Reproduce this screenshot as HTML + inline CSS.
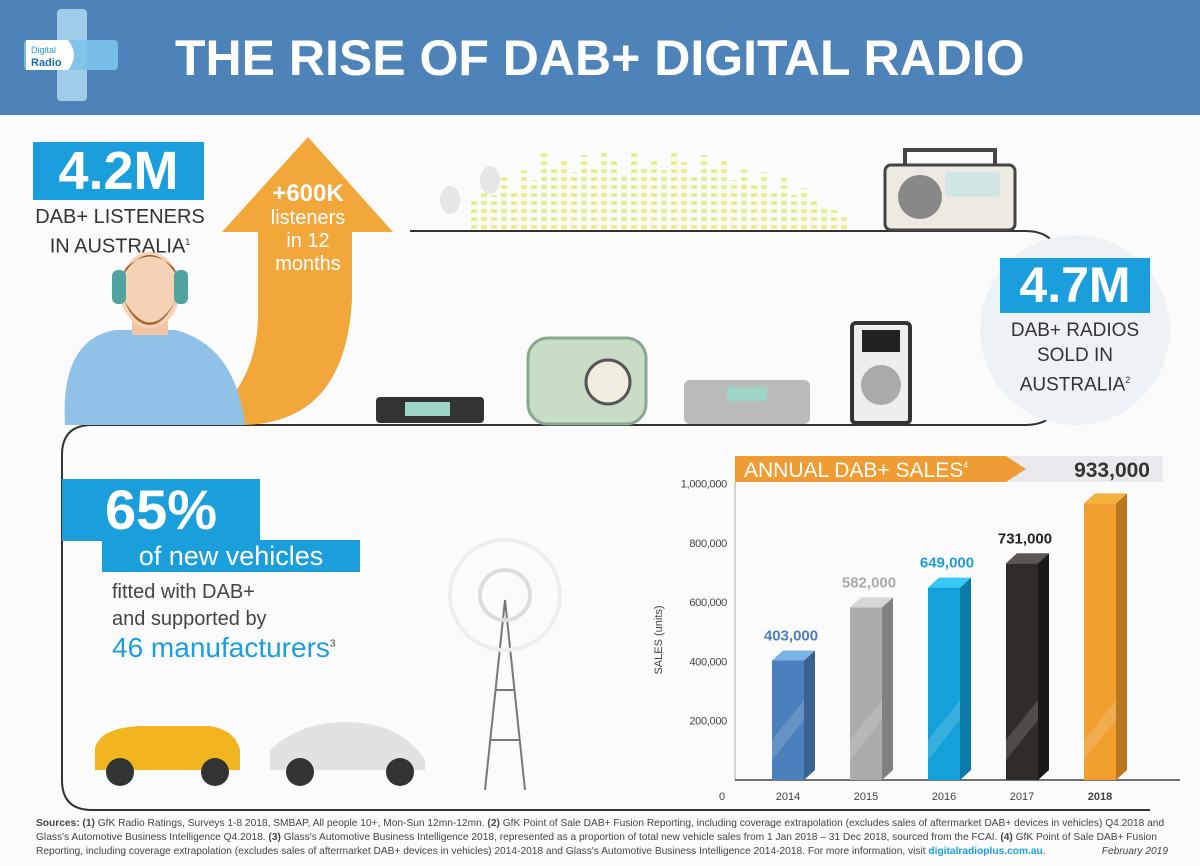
<!DOCTYPE html>
<html><head><meta charset="utf-8">
<style>
body{margin:0;width:1200px;height:866px;overflow:hidden;background:#fafafa;font-family:"Liberation Sans",sans-serif;}
#wrap{position:relative;width:1200px;height:866px;}
.abs{position:absolute;}
</style></head>
<body>
<div id="wrap">
<svg class="abs" style="left:0;top:0" width="1200" height="866">
  <defs>
    <pattern id="dots" width="10" height="8" patternUnits="userSpaceOnUse"><rect x="1" y="1" width="6" height="4" fill="#e4ec6a"/></pattern>
  </defs>
  <rect x="0" y="0" width="1200" height="866" fill="#fbfbfb"/>
  <rect x="0" y="0" width="1200" height="115" fill="#4d83b9"/>
  <g>
    <rect x="57" y="9" width="30" height="92" rx="4" fill="#a8d4ee" opacity="0.9"/>
    <rect x="24" y="40" width="94" height="30" rx="4" fill="#7cc3ea" opacity="0.9"/>
    <path d="M26 40 h42 q12 15 0 30 h-42 z" fill="#fff"/>
    <text x="31" y="53" font-size="9" fill="#1ea0dc">Digital</text>
    <text x="31" y="66" font-size="11" font-weight="bold" fill="#1a6fb3">Radio</text>
  </g>
  <text x="175" y="75" font-size="50" font-weight="bold" fill="#fff">THE RISE OF DAB+ DIGITAL RADIO</text>
  <path d="M410 231 H1025 Q1058 231 1058 262 V395 Q1058 425 1025 425 H92 Q62 425 62 455 V780 Q62 810 92 810 H1150" fill="none" stroke="#333" stroke-width="2"/>
  <g fill="url(#dots)" opacity="0.75">
    <rect x="470" y="200" width="10" height="30"/><rect x="480" y="185" width="10" height="45"/><rect x="490" y="195" width="10" height="35"/>
    <rect x="500" y="175" width="10" height="55"/><rect x="510" y="190" width="10" height="40"/><rect x="520" y="170" width="10" height="60"/>
    <rect x="530" y="180" width="10" height="50"/><rect x="540" y="150" width="10" height="80"/><rect x="550" y="165" width="10" height="65"/>
    <rect x="560" y="160" width="10" height="70"/><rect x="570" y="172" width="10" height="58"/><rect x="580" y="155" width="10" height="75"/>
    <rect x="590" y="168" width="10" height="62"/><rect x="600" y="150" width="10" height="80"/><rect x="610" y="160" width="10" height="70"/>
    <rect x="620" y="176" width="10" height="54"/><rect x="630" y="152" width="10" height="78"/><rect x="640" y="165" width="10" height="65"/>
    <rect x="650" y="158" width="10" height="72"/><rect x="660" y="170" width="10" height="60"/><rect x="670" y="150" width="10" height="80"/>
    <rect x="680" y="162" width="10" height="68"/><rect x="690" y="175" width="10" height="55"/><rect x="700" y="155" width="10" height="75"/>
    <rect x="710" y="168" width="10" height="62"/><rect x="720" y="160" width="10" height="70"/><rect x="730" y="180" width="10" height="50"/>
    <rect x="740" y="165" width="10" height="65"/><rect x="750" y="185" width="10" height="45"/><rect x="760" y="172" width="10" height="58"/>
    <rect x="770" y="190" width="10" height="40"/><rect x="780" y="178" width="10" height="52"/><rect x="790" y="195" width="10" height="35"/>
    <rect x="800" y="188" width="10" height="42"/><rect x="810" y="200" width="10" height="30"/><rect x="820" y="205" width="10" height="25"/>
    <rect x="830" y="210" width="10" height="20"/><rect x="840" y="215" width="10" height="15"/>
  </g>
  <g fill="#e6e6e6">
    <ellipse cx="450" cy="200" rx="10" ry="14"/><ellipse cx="490" cy="180" rx="10" ry="14"/>
  </g>
  <g>
    <rect x="885" y="165" width="130" height="65" rx="6" fill="#eceae2" stroke="#444" stroke-width="3"/>
    <circle cx="920" cy="197" r="22" fill="#888"/>
    <rect x="945" y="172" width="55" height="25" rx="4" fill="#cfe6e2"/>
    <path d="M905 165 V150 H995 V165" fill="none" stroke="#444" stroke-width="4"/>
  </g>
  <circle cx="1075" cy="330" r="95" fill="#eef1f5"/>
  <path d="M200 425 Q255 390 258 320 V232 H222 L308 137 L393 232 H352 V300 Q345 425 240 425 Z" fill="#f2a73b"/>
  <g>
    <path d="M65 425 Q60 340 115 330 H175 Q235 345 245 425 Z" fill="#8fc2e6"/>
    <rect x="132" y="290" width="36" height="45" fill="#f1c5a4"/>
    <ellipse cx="150" cy="290" rx="30" ry="38" fill="#f6d2b5"/>
    <path d="M120 280 Q150 230 180 280 L174 268 Q150 245 126 268 Z" fill="#8a5a30"/>
    <path d="M124 300 Q150 345 176 300 Q164 325 150 325 Q134 325 124 300 Z" fill="#a06a3a"/>
    <rect x="112" y="270" width="14" height="34" rx="6" fill="#4fa4a0"/>
    <rect x="174" y="270" width="14" height="34" rx="6" fill="#4fa4a0"/>
  </g>
  <g><rect x="376" y="397" width="108" height="26" rx="4" fill="#333"/><rect x="405" y="402" width="45" height="14" fill="#9ed4c8"/></g>
  <g><rect x="528" y="338" width="118" height="86" rx="20" fill="#c9dcc8" stroke="#8aa890" stroke-width="3"/><circle cx="608" cy="382" r="22" fill="#f0ede0" stroke="#555" stroke-width="3"/></g>
  <g><rect x="684" y="380" width="126" height="44" rx="6" fill="#bbb"/><rect x="727" y="387" width="40" height="14" fill="#9ed4c8"/></g>
  <g><rect x="852" y="323" width="58" height="100" rx="4" fill="#eee" stroke="#333" stroke-width="4"/><rect x="862" y="330" width="38" height="22" fill="#222"/><circle cx="881" cy="385" r="20" fill="#aaa"/></g>
  <g fill="none" stroke="#777" stroke-width="2">
    <path d="M485 790 L505 600 L525 790 M490 740 H520 M495 690 H515"/>
    <circle cx="505" cy="595" r="25" stroke="#ddd" stroke-width="4"/>
    <circle cx="505" cy="595" r="55" stroke="#eee" stroke-width="4"/>
  </g>
  <g><path d="M95 770 V748 Q100 728 140 726 H210 Q235 730 240 750 V770 Z" fill="#f2b51f"/><circle cx="120" cy="772" r="14" fill="#333"/><circle cx="215" cy="772" r="14" fill="#333"/></g>
  <g><path d="M270 770 V750 Q300 722 345 722 Q400 722 425 760 V770 Z" fill="#e2e2e2"/><circle cx="300" cy="772" r="14" fill="#333"/><circle cx="400" cy="772" r="14" fill="#333"/></g>
</svg>

<div class="abs" style="left:33px;top:142px;width:171px;height:58px;background:#1a9fdc;color:#fff;font-weight:bold;font-size:54px;line-height:58px;text-align:center">4.2M</div>
<div class="abs" style="left:20px;top:205px;width:200px;text-align:center;font-size:20px;line-height:25px;color:#333">DAB+ LISTENERS<br>IN AUSTRALIA<sup style="font-size:9px">1</sup></div>
<div class="abs" style="left:253px;top:182px;width:110px;text-align:center;color:#fff;font-size:20px;line-height:23px"><b style="font-size:24px">+600K</b><br>listeners<br>in 12<br>months</div>
<div class="abs" style="left:1000px;top:258px;width:150px;height:55px;background:#1a9fdc;color:#fff;font-weight:bold;font-size:50px;line-height:55px;text-align:center">4.7M</div>
<div class="abs" style="left:990px;top:318px;width:170px;text-align:center;font-size:19px;line-height:25px;color:#333">DAB+ RADIOS<br>SOLD IN<br>AUSTRALIA<sup style="font-size:9px">2</sup></div>
<div class="abs" style="left:62px;top:479px;width:198px;height:62px;background:#1a9fdc;color:#fff;font-weight:bold;font-size:56px;line-height:62px;text-align:center">65%</div>
<div class="abs" style="left:102px;top:540px;width:258px;height:32px;background:#1a9fdc;color:#fff;font-size:27px;line-height:32px;text-align:center">of new vehicles</div>
<div class="abs" style="left:112px;top:579px;font-size:20px;line-height:27px;color:#444">fitted with DAB+<br>and supported by</div>
<div class="abs" style="left:112px;top:632px;font-size:28px;color:#1a9fdc">46 manufacturers<sup style="font-size:10px;color:#444">3</sup></div>

<svg class="abs" style="left:0;top:0" width="1200" height="866" id="chart">
  <rect x="1006" y="456" width="157" height="26" fill="#e9e9ee"/>
  <polygon points="735,456 1006,456 1026,469 1006,482 735,482" fill="#ee9c33"/>
  <text x="744" y="477" font-size="21" fill="#fff">ANNUAL DAB+ SALES<tspan font-size="9" dy="-9">4</tspan></text>
  <text x="1150" y="477" font-size="21" font-weight="bold" fill="#333" text-anchor="end">933,000</text>
  <text transform="translate(662,640) rotate(-90)" font-size="11" fill="#444" text-anchor="middle">SALES (units)</text>
  <g id="axes"></g><g id="bars"></g>
</svg>

<div class="abs" style="left:36px;top:817px;width:1140px;font-size:10.2px;line-height:14px;color:#444"><b>Sources: (1)</b> GfK Radio Ratings, Surveys 1-8 2018, SMBAP, All people 10+, Mon-Sun 12mn-12mn. <b>(2)</b> GfK Point of Sale DAB+ Fusion Reporting, including coverage extrapolation (excludes sales of aftermarket DAB+ devices in vehicles) Q4.2018 and Glass's Automotive Business Intelligence Q4.2018. <b>(3)</b> Glass's Automotive Business Intelligence 2018, represented as a proportion of total new vehicle sales from 1 Jan 2018 – 31 Dec 2018, sourced from the FCAI. <b>(4)</b> GfK Point of Sale DAB+ Fusion Reporting, including coverage extrapolation (excludes sales of aftermarket DAB+ devices in vehicles) 2014-2018 and Glass's Automotive Business Intelligence 2014-2018. For more information, visit <b style="color:#1a9fdc">digitalradioplus.com.au</b>.<i style="float:right;margin-right:8px">February 2019</i></div>

<script>
const years = ["2014","2015","2016","2017","2018"];
const sales = [403000,582000,649000,731000,933000];
const valueLabels = ["403,000","582,000","649,000","731,000",""];
const yTicks = [200000,400000,600000,800000,1000000];
const yTickLabels = ["200,000","400,000","600,000","800,000","1,000,000"];
const NS="http://www.w3.org/2000/svg";
const y0=780, yPer=59.3/200000;
const yS=v=>y0-v*yPer;
const xS=i=>772+i*78;
const fronts=["#4a80bc","#ababab","#14a0d8","#2f2c2a","#ef9e2f"];
const sides=["#3a6290","#808080","#0c7aa8","#1a1816","#b9771e"];
const tops=["#7ab4e6","#d6d6d6","#38c8f4","#5a5652","#f5b13e"];
const lblCol=["#4a80bc","#aaaaaa","#1aa0d8","#222",""];
const ax=document.getElementById('axes'), bg=document.getElementById('bars');
function mk(t,a,p){const e=document.createElementNS(NS,t);for(const k in a)e.setAttribute(k,a[k]);p.appendChild(e);return e;}
const yl=mk('line',{x1:735,y1:482,x2:735,y2:y0,stroke:'#aaa','stroke-width':1},ax);


const xl=mk('line',{x1:735,y1:y0,x2:1180,y2:y0,stroke:'#444','stroke-width':1.5},ax);


const z=mk('text',{x:722,y:800,'font-size':11,fill:'#444','text-anchor':'middle'},ax);z.textContent='0';


yTicks.forEach((v,i)=>{
  const t=mk('text',{x:727,y:yS(v)+4,'font-size':11,fill:'#444','text-anchor':'end','letter-spacing':'-0.3'},ax);t.textContent=yTickLabels[i];
  
  
});
years.forEach((yr,i)=>{
  const x=xS(i), top=yS(sales[i]), w=32, d=11;
  const g=mk('g',{},bg);
  
  
  mk('rect',{x:x,y:top,width:w,height:y0-top,fill:fronts[i]},g);
  mk('polygon',{points:`${x+w},${top} ${x+w+d},${top-10} ${x+w+d},${y0-10} ${x+w},${y0}`,fill:sides[i]},g);
  mk('polygon',{points:`${x},${top} ${x+d},${top-10} ${x+w+d},${top-10} ${x+w},${top}`,fill:tops[i]},g);
  mk('polygon',{points:`${x},${y0-40} ${x+w},${y0-80} ${x+w},${y0-60} ${x},${y0-20}`,fill:'#fff',opacity:0.15},g);
  const yt=mk('text',{x:x+w/2,y:800,'font-size':11,fill:'#444','text-anchor':'middle','font-weight':i==4?'bold':'normal'},ax);
  yt.textContent=yr;
  
  
  if(valueLabels[i]){
    const vl=mk('text',{x:x+w/2+3,y:top-20,'font-size':15,'font-weight':'bold',fill:lblCol[i],'text-anchor':'middle'},bg);
    vl.textContent=valueLabels[i];
    
    
  }
});
</script>
</div>
</body></html>
